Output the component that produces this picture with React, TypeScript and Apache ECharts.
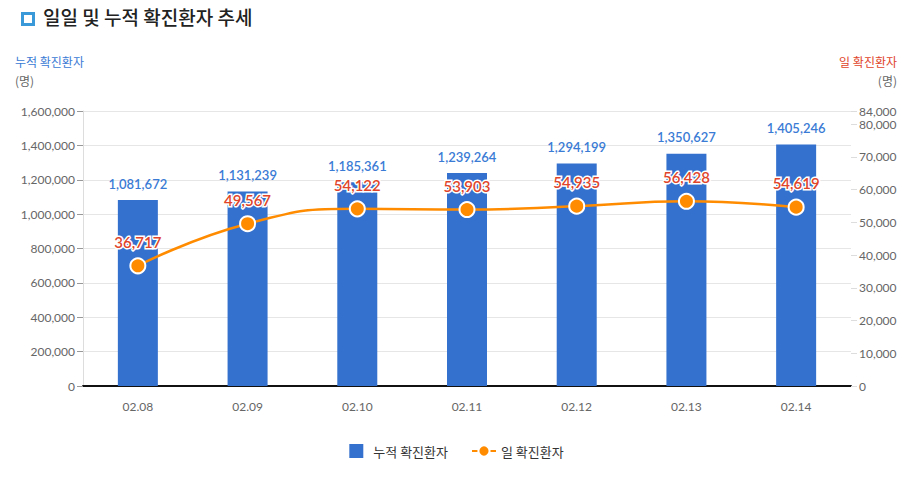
import React, { useEffect, useRef } from "react";
import * as echarts from "echarts";

const categories = ["02.08", "02.09", "02.10", "02.11", "02.12", "02.13", "02.14"];
const cumulative = [1081672, 1131239, 1185361, 1239264, 1294199, 1350627, 1405246];
const daily = [36717, 49567, 54122, 53903, 54935, 56428, 54619];
const title = "일일 및 누적 확진환자 추세";
const leftName = "누적 확진환자";
const rightName = "일 확진환자";

const FONT = "Lato, 'Noto Sans CJK KR', sans-serif";
const KR = "'Noto Sans CJK KR', sans-serif";
const fmt = (v: number) => v.toLocaleString("en-US");

export default function App() {
  const ref = useRef<HTMLDivElement>(null);
  useEffect(() => {
    const chart = echarts.init(ref.current!, null, { renderer: "svg" });
    chart.setOption({
      animation: false,
      textStyle: { fontFamily: FONT },
      graphic: [
        { type: "rect", left: 21, top: 12, shape: { width: 11, height: 11 }, style: { fill: "#fff", stroke: "#3a9ad9", lineWidth: 3 } },
        { type: "text", left: 43, top: 7, style: { text: title, fontSize: 19, fontWeight: 500, fill: "#222", fontFamily: KR } },
        { type: "text", left: 15, top: 55, style: { text: leftName, fontSize: 12, fill: "#3a7bd5", fontFamily: KR } },
        { type: "text", left: 15, top: 74, style: { text: "(명)", fontSize: 12, fill: "#666", fontFamily: KR } },
        { type: "text", right: 16, top: 55, style: { text: rightName, fontSize: 12, fill: "#e0452b", fontFamily: KR } },
        { type: "text", right: 16, top: 74, style: { text: "(명)", fontSize: 12, fill: "#666", fontFamily: KR } },
      ],
      legend: {
        top: 439,
        left: "center",
        itemGap: 23,
        itemWidth: 24,
        itemHeight: 14,
        textStyle: { fontSize: 13, color: "#333", fontFamily: KR },
        data: [
          { name: leftName, icon: "path://M0,0h14v14h-14z" },
          { name: rightName },
        ],
      },
      grid: { left: 83, right: 62, top: 111, bottom: 91 },
      xAxis: {
        type: "category",
        data: categories,
        axisLine: { lineStyle: { color: "#111", width: 2 } },
        axisTick: { show: false },
        axisLabel: { color: "#666", fontSize: 12, margin: 14 },
      },
      yAxis: [
        {
          type: "value",
          min: 0,
          max: 1600000,
          interval: 200000,
          axisLine: { show: true, lineStyle: { color: "#ddd" } },
          axisTick: { show: true, length: 6, lineStyle: { color: "#999" } },
          axisLabel: { color: "#666", fontSize: 12, formatter: (v: number) => fmt(v) },
          splitLine: { lineStyle: { color: "#e6e6e6" } },
        },
        {
          type: "value",
          min: 0,
          max: 84000,
          interval: 10000,
          axisLine: { show: false },
          axisTick: { show: true, length: 6, lineStyle: { color: "#ddd" } },
          axisLabel: { color: "#666", fontSize: 12, lineHeight: 11, formatter: (v: number) => fmt(v) },
          splitLine: { show: false },
        },
      ],
      series: [
        {
          name: leftName,
          type: "bar",
          data: cumulative,
          barWidth: 40,
          itemStyle: { color: "#3470cd" },
          label: {
            show: true,
            position: "top",
            distance: 10,
            color: "#3a7bd5",
            fontSize: 13,
            fontWeight: 600,
            formatter: (p: any) => fmt(p.value),
          },
          z: 2,
        },
        {
          name: rightName,
          type: "line",
          yAxisIndex: 1,
          data: daily,
          smooth: true,
          symbol: "circle",
          symbolSize: 15,
          lineStyle: { color: "#ff8c00", width: 2.5 },
          itemStyle: { color: "#ff8c00", borderColor: "#fff", borderWidth: 2 },
          label: {
            show: true,
            position: "top",
            distance: 8,
            color: "#e0452b",
            fontSize: 15,
            fontWeight: 600,
            textBorderColor: "#fff",
            textBorderWidth: 3,
            formatter: (p: any) => fmt(p.value),
          },
          z: 5,
        },
      ],
    });
    return () => chart.dispose();
  }, []);
  return <div ref={ref} style={{ width: 913, height: 477, margin: -8 }} />;
}
